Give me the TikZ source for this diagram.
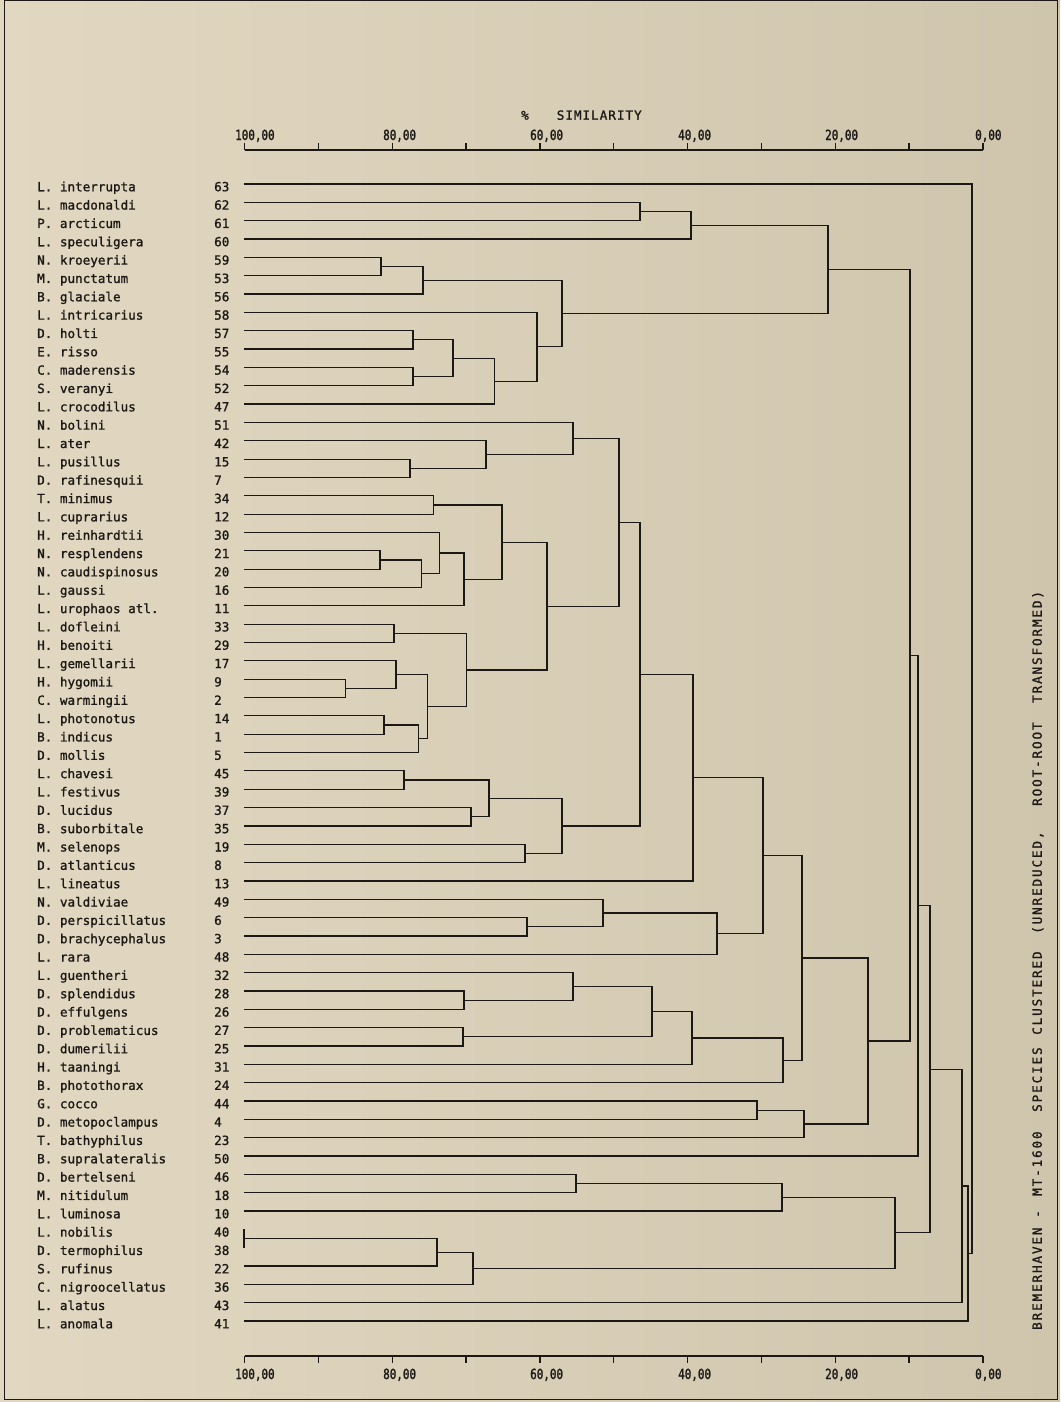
\documentclass[tikz,border=0pt]{standalone}
\usepackage{fontspec}
\setmainfont{DejaVu Sans Mono}
\newfontfamily\lblfont[FakeBold=1.2]{DejaVu Sans Mono}
\newfontfamily\axfont[FakeStretch=0.78,FakeBold=1.4]{DejaVu Sans Mono}
\newfontfamily\spfont[LetterSpace=15,FakeBold=1.2]{DejaVu Sans Mono}
\newfontfamily\simfont[LetterSpace=8,FakeBold=1.2]{DejaVu Sans Mono}
\usetikzlibrary{calc}
\definecolor{bgL}{RGB}{226,216,193}
\definecolor{bgR}{RGB}{207,196,172}
\definecolor{ink}{RGB}{28,24,22}
\newcommand\mrg[4]{%
  \path let \p1=(#3), \p2=(#4) in (#2,{0.5*(\y1+\y2)}) coordinate (#1);
  \draw[tree] (#3) -- (#3 -| #1) -- (#4 -| #1) -- (#4);
}
\tikzset{
  tree/.style={draw=ink, line width=1.2pt},
  axisline/.style={draw=ink, line width=1.4pt},
  lbl/.style={anchor=west, inner sep=0pt, text height=9.5pt, text depth=0pt, text=ink, font=\lblfont\fontsize{12.6}{14}\selectfont},
  axlbl/.style={anchor=west, inner sep=0pt, text height=10pt, text depth=0pt, text=ink, font=\axfont\fontsize{14}{16}\selectfont},
  sidelbl/.style={anchor=west, rotate=90, inner sep=0pt, text height=9.5pt, text depth=0pt, text=ink, font=\spfont\fontsize{12.6}{14}\selectfont},
}
\begin{document}
\begin{tikzpicture}[x=1pt,y=1pt]
\shade[left color=bgL, right color=bgR] (0,0) rectangle (1060,-1402);
\useasboundingbox (0,0) rectangle (1060,-1402);
\draw[ink, line width=1pt] (4,-1) rectangle (1057,-1399);
% leaves
\foreach \i/\n/\k in {0/L. interrupta/63, 1/L. macdonaldi/62, 2/P. arcticum/61, 3/L. speculigera/60, 4/N. kroeyerii/59, 5/M. punctatum/53, 6/B. glaciale/56, 7/L. intricarius/58, 8/D. holti/57, 9/E. risso/55, 10/C. maderensis/54, 11/S. veranyi/52, 12/L. crocodilus/47, 13/N. bolini/51, 14/L. ater/42, 15/L. pusillus/15, 16/D. rafinesquii/7, 17/T. minimus/34, 18/L. cuprarius/12, 19/H. reinhardtii/30, 20/N. resplendens/21, 21/N. caudispinosus/20, 22/L. gaussi/16, 23/L. urophaos atl./11, 24/L. dofleini/33, 25/H. benoiti/29, 26/L. gemellarii/17, 27/H. hygomii/9, 28/C. warmingii/2, 29/L. photonotus/14, 30/B. indicus/1, 31/D. mollis/5, 32/L. chavesi/45, 33/L. festivus/39, 34/D. lucidus/37, 35/B. suborbitale/35, 36/M. selenops/19, 37/D. atlanticus/8, 38/L. lineatus/13, 39/N. valdiviae/49, 40/D. perspicillatus/6, 41/D. brachycephalus/3, 42/L. rara/48, 43/L. guentheri/32, 44/D. splendidus/28, 45/D. effulgens/26, 46/D. problematicus/27, 47/D. dumerilii/25, 48/H. taaningi/31, 49/B. photothorax/24, 50/G. cocco/44, 51/D. metopoclampus/4, 52/T. bathyphilus/23, 53/B. supralateralis/50, 54/D. bertelseni/46, 55/M. nitidulum/18, 56/L. luminosa/10, 57/L. nobilis/40, 58/D. termophilus/38, 59/S. rufinus/22, 60/C. nigroocellatus/36, 61/L. alatus/43, 62/L. anomala/41}{
  \coordinate (l\i) at (244,{-(184+18.34*\i)});
  \node[lbl] (t\i) at (37,{-(186.5+18.34*\i)}) {\n};
  \node[lbl] (k\i) at (214,{-(186.5+18.34*\i)}) {\k};
}
% rows 1-12
\mrg{a1}{640}{l1}{l2}
\mrg{a2}{691}{a1}{l3}
\mrg{a3}{381}{l4}{l5}
\mrg{a4}{423}{a3}{l6}
\mrg{a5}{413}{l8}{l9}
\mrg{a6}{413}{l10}{l11}
\mrg{a7}{453}{a5}{a6}
\mrg{a8}{494.5}{a7}{l12}
\mrg{a9}{537}{l7}{a8}
\mrg{a10}{562}{a4}{a9}
\mrg{a11}{828}{a2}{a10}
% rows 13-52
\mrg{b1}{410}{l15}{l16}
\mrg{b2}{486}{l14}{b1}
\mrg{b3}{573}{l13}{b2}
\mrg{b4}{433.5}{l17}{l18}
\mrg{b5}{380}{l20}{l21}
\mrg{b6}{421.5}{b5}{l22}
\mrg{b7}{439.5}{l19}{b6}
\mrg{b8}{464}{b7}{l23}
\mrg{b9}{502}{b4}{b8}
\mrg{b10}{394}{l24}{l25}
\mrg{b11}{345.5}{l27}{l28}
\mrg{b12}{396}{l26}{b11}
\mrg{b13}{384}{l29}{l30}
\mrg{b14}{418.5}{b13}{l31}
\mrg{b15}{427.5}{b12}{b14}
\mrg{b16}{466.5}{b10}{b15}
\mrg{b17}{547}{b9}{b16}
\mrg{b18}{619}{b3}{b17}
\mrg{b19}{404}{l32}{l33}
\mrg{b20}{471}{l34}{l35}
\mrg{b21}{489}{b19}{b20}
\mrg{b22}{525}{l36}{l37}
\mrg{b23}{562}{b21}{b22}
\mrg{b24}{640}{b18}{b23}
\mrg{b25}{693}{b24}{l38}
\mrg{b26}{527}{l40}{l41}
\mrg{b27}{603}{l39}{b26}
\mrg{b28}{717}{b27}{l42}
\mrg{b29}{763}{b25}{b28}
\mrg{b30}{464}{l44}{l45}
\mrg{b31}{573}{l43}{b30}
\mrg{b32}{463}{l46}{l47}
\mrg{b33}{652}{b31}{b32}
\mrg{b34}{692}{b33}{l48}
\mrg{b35}{783}{b34}{l49}
\mrg{b36}{802}{b29}{b35}
\mrg{b37}{757}{l50}{l51}
\mrg{b38}{804}{b37}{l52}
\mrg{b39}{868}{b36}{b38}
% rows 54-60
\mrg{c1}{576}{l54}{l55}
\mrg{c2}{782}{c1}{l56}
\mrg{c3}{244}{l57}{l58}
\mrg{c4}{437}{c3}{l59}
\mrg{c5}{473}{c4}{l60}
\mrg{c6}{895}{c2}{c5}
% upper levels
\mrg{d1}{910}{a11}{b39}
\mrg{d2}{918}{d1}{l53}
\mrg{d3}{930}{d2}{c6}
\mrg{d4}{962}{d3}{l61}
\mrg{d5}{968}{d4}{l62}
\mrg{root}{972}{l0}{d5}
% top axis
\draw[axisline] (244.5,-150) -- (983,-150);
\foreach \j in {0,...,10}{
  \draw[axisline] ({244.5+73.85*\j},-150) -- ({244.5+73.85*\j},-143);
}
\node[axlbl] (tx0) at (235,-135) {100,00};
\node[axlbl] (tx1) at (383,-135) {80,00};
\node[axlbl] (tx2) at (530,-135) {60,00};
\node[axlbl] (tx3) at (678,-135) {40,00};
\node[axlbl] (tx4) at (825,-135) {20,00};
\node[axlbl] (tx5) at (975,-135) {0,00};
\node[anchor=west, inner sep=0pt, text height=9.5pt, text depth=0pt, text=ink, font=\simfont\fontsize{12.6}{14}\selectfont] (sim) at (521,-115) {\%\hspace{28pt}SIMILARITY};
% bottom axis
\draw[axisline] (244.5,-1356) -- (983,-1356);
\foreach \j in {0,...,10}{
  \draw[axisline] ({244.5+73.85*\j},-1356) -- ({244.5+73.85*\j},-1363);
}
\node[axlbl] (bx0) at (235,-1374) {100,00};
\node[axlbl] (bx1) at (383,-1374) {80,00};
\node[axlbl] (bx2) at (530,-1374) {60,00};
\node[axlbl] (bx3) at (678,-1374) {40,00};
\node[axlbl] (bx4) at (825,-1374) {20,00};
\node[axlbl] (bx5) at (975,-1374) {0,00};
% side title
\node[sidelbl] (w1) at (1037,-1330) {BREMERHAVEN};
\node[sidelbl] (w2) at (1037,-1218) {-};
\node[sidelbl] (w3) at (1037,-1196) {MT-1600};
\node[sidelbl] (w4) at (1037,-1112) {SPECIES};
\node[sidelbl] (w5) at (1037,-1035) {CLUSTERED};
\node[sidelbl] (w6) at (1037,-934) {(UNREDUCED,};
\node[sidelbl] (w7) at (1037,-806) {ROOT-ROOT};
\node[sidelbl] (w8) at (1037,-703) {TRANSFORMED)};
\end{tikzpicture}
\end{document}
